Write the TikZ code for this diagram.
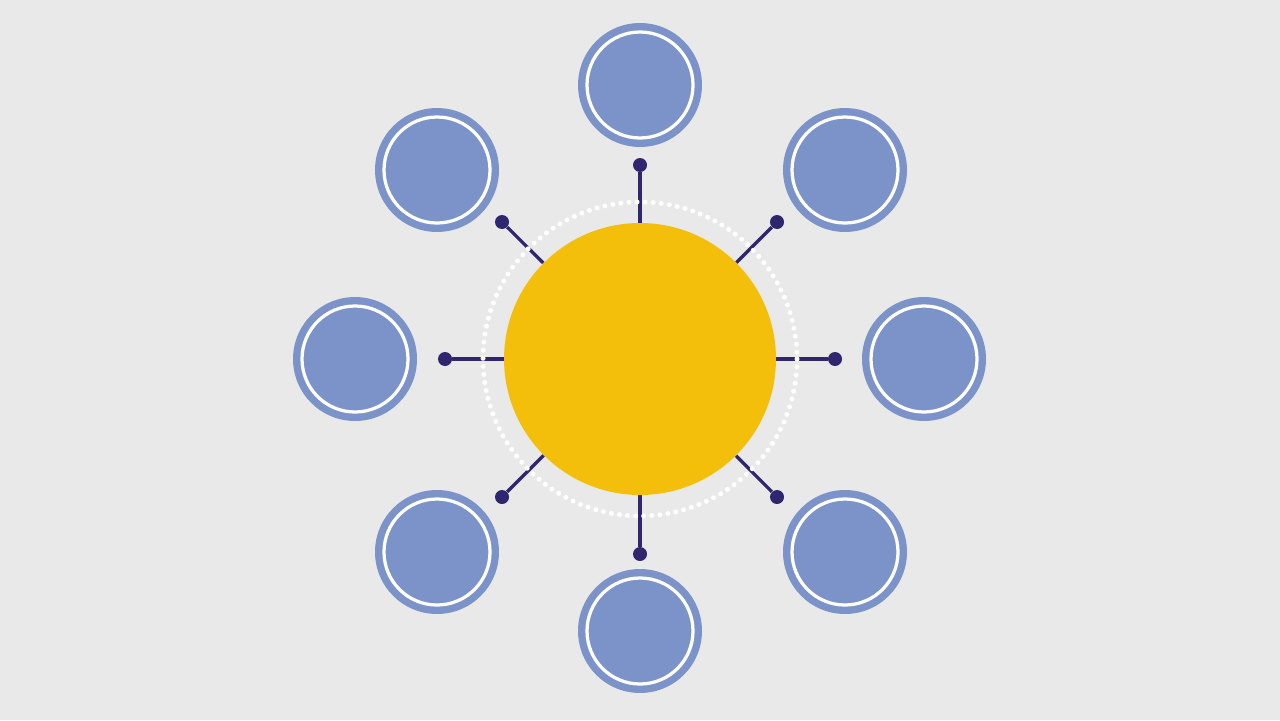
\documentclass[tikz,border=0pt]{standalone}
\usetikzlibrary{calc}
\definecolor{paper}{HTML}{E9E9E9}
\definecolor{satblue}{HTML}{7B93C9}
\definecolor{spokenavy}{HTML}{30266F}
\definecolor{hubyellow}{HTML}{F4BF0A}
\tikzset{
    hub/.style={circle, fill=hubyellow, minimum size=5.44cm, inner sep=0pt},   % Central disc
    satellite/.style={circle, fill=satblue, minimum size=2.48cm, inner sep=0pt},
    satring/.style={draw=white, line width=0.065cm},
    spokedot/.style={circle, fill=spokenavy, minimum size=0.28cm, inner sep=0pt},
    spoke/.style={draw=spokenavy, line width=0.065cm},
    dotring/.style={draw=white, line width=0.1cm, line cap=round, dash pattern=on 0pt off 0.162cm}
}

\begin{document}
\begin{tikzpicture}[x=0.02cm,y=-0.02cm]
  % Background
    \fill[paper] (0,0) rectangle (1280,720);
    \useasboundingbox (0,0) rectangle (1280,720);

  % The graphic
    \node[hub] (h) at (640,359) {};

    \foreach \n/\sx/\sy/\dx/\dy in {n/640/85/640/165, ne/845/170/777/222,
        e/924/359/835/359, se/845/552/777/497, s/640/631/640/554,
        sw/437/552/502/497, w/355/359/445/359, nw/437/170/502/222}
    {
      \node[satellite] (sat\n) at (\sx,\sy) {};
      \draw[satring] (sat\n.center) circle [radius=53];
      \node[spokedot] (dot\n) at (\dx,\dy) {};
      \draw[spoke] (h) -- (dot\n);
    }

    \draw[dotring] (h.center) circle [radius=157];
\end{tikzpicture}
\end{document}
